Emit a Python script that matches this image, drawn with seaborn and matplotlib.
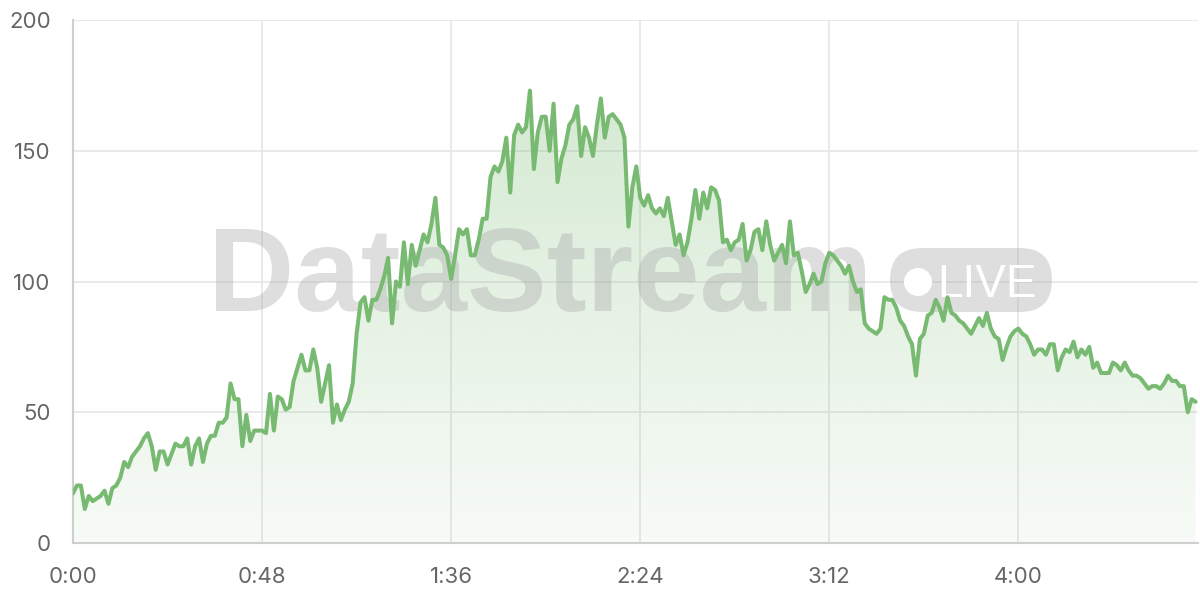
import numpy as np
import pandas as pd
import matplotlib
matplotlib.use("Agg")
import matplotlib.pyplot as plt
from matplotlib.patches import FancyBboxPatch, Circle
from matplotlib.transforms import IdentityTransform
import seaborn as sns

# one reading per second, 0:00 .. 4:45
values = [
    19, 22, 22, 13, 18, 16, 17, 18, 20, 15,
    21, 22, 25, 31, 29, 33, 35, 37, 40, 42,
    37, 28, 35, 35, 30, 34, 38, 37, 37, 40,
    30, 37, 40, 31, 38, 41, 41, 46, 46, 48,
    61, 55, 55, 37, 49, 39, 43, 43, 43, 42,
    57, 43, 56, 55, 51, 52, 62, 67, 72, 66,
    66, 74, 67, 54, 61, 68, 46, 53, 47, 51,
    54, 61, 80, 92, 94, 85, 93, 93, 97, 102,
    109, 84, 100, 98, 115, 99, 114, 106, 112, 118,
    115, 122, 132, 114, 113, 110, 101, 110, 120, 118,
    120, 110, 110, 116, 124, 124, 140, 144, 142, 146,
    155, 134, 156, 160, 157, 159, 173, 143, 157, 163,
    163, 150, 168, 138, 147, 152, 160, 162, 167, 148,
    159, 155, 148, 160, 170, 155, 163, 164, 162, 160,
    155, 121, 136, 144, 132, 129, 133, 128, 126, 128,
    125, 132, 123, 114, 118, 110, 115, 124, 135, 124,
    134, 128, 136, 135, 131, 115, 116, 112, 115, 116,
    122, 108, 112, 119, 120, 112, 123, 114, 108, 111,
    114, 107, 123, 110, 111, 104, 96, 99, 103, 99,
    100, 107, 111, 110, 108, 106, 103, 106, 100, 96,
    97, 84, 82, 81, 80, 82, 94, 93, 93, 90,
    85, 83, 79, 76, 64, 78, 80, 87, 88, 93,
    90, 85, 94, 88, 87, 85, 84, 82, 80, 83,
    86, 83, 88, 82, 79, 78, 70, 75, 79, 81,
    82, 80, 79, 76, 72, 74, 74, 72, 76, 76,
    66, 71, 74, 73, 77, 71, 74, 72, 75, 67,
    69, 65, 65, 65, 69, 68, 66, 69, 66, 64,
    64, 63, 61, 59, 60, 60, 59, 61, 64, 62,
    62, 60, 60, 50, 55, 54,
]
seconds = list(range(len(values)))

x_ticks = [0, 48, 96, 144, 192, 240]
x_labels = ["0:00", "0:48", "1:36", "2:24", "3:12", "4:00"]
y_ticks = [0, 50, 100, 150, 200]

df = pd.DataFrame({"t": seconds, "value": values})

sns.set_theme(style="white")
plt.rcParams["font.family"] = ["Inter", "DejaVu Sans"]

line_color = "#78ba71"
fig = plt.figure(figsize=(12, 6), dpi=100)
ax = fig.add_axes([73 / 1200, 57 / 600, 1125 / 1200, 523 / 600])

# gradient area under the line
poly = ax.fill_between(df["t"], df["value"], 0, color="none", lw=0)
grad = np.zeros((256, 1, 4))
grad[:, 0, 0] = 0x78 / 255
grad[:, 0, 1] = 0xba / 255
grad[:, 0, 2] = 0x71 / 255
grad[:, 0, 3] = np.linspace(0.06, 0.32, 256)
img = ax.imshow(grad, extent=[0, 286, 0, 180], origin="lower", aspect="auto", zorder=1)
img.set_clip_path(poly.get_paths()[0], transform=ax.transData)

sns.lineplot(data=df, x="t", y="value", color=line_color, linewidth=2.9, ax=ax, zorder=3)

# watermark (pixel coordinates)
wm = "#a6a6a6"
wm_alpha = 0.36
ident = IdentityTransform()
ax.text(208, 600 - 311, "DataStream", transform=ident, fontsize=86, fontweight="bold",
        family="Liberation Sans", color=wm, alpha=wm_alpha, ha="left", va="baseline", zorder=2)
ax.add_artist(FancyBboxPatch((890, 600 - 312), 162, 64, boxstyle="round,pad=0,rounding_size=32",
                             transform=ident, facecolor=wm, edgecolor="none", alpha=wm_alpha, zorder=2))
ax.add_artist(Circle((918, 600 - 282), 14, transform=ident, facecolor="white", edgecolor="none", zorder=2.1))
ax.text(937, 600 - 297, "LIVE", transform=ident, fontsize=33, family="Liberation Sans",
        color="white", ha="left", va="baseline", zorder=2.1)

ax.set_xlim(0, 285.6)
ax.set_ylim(0, 200)
ax.set_xticks(x_ticks)
ax.set_xticklabels(x_labels)
ax.set_yticks(y_ticks)
ax.set_xlabel("")
ax.set_ylabel("")
ax.grid(True, color="#e6e6e6", linewidth=1.2)
ax.set_axisbelow(True)
for side in ["top", "right"]:
    ax.spines[side].set_visible(False)
for side in ["left", "bottom"]:
    ax.spines[side].set_color("#cfcfcf")
    ax.spines[side].set_linewidth(1.5)
ax.tick_params(axis="both", length=0, labelsize=16, labelcolor="#666666")
ax.tick_params(axis="y", pad=16)
ax.tick_params(axis="x", pad=17)

fig.savefig("out.png", dpi=100)
